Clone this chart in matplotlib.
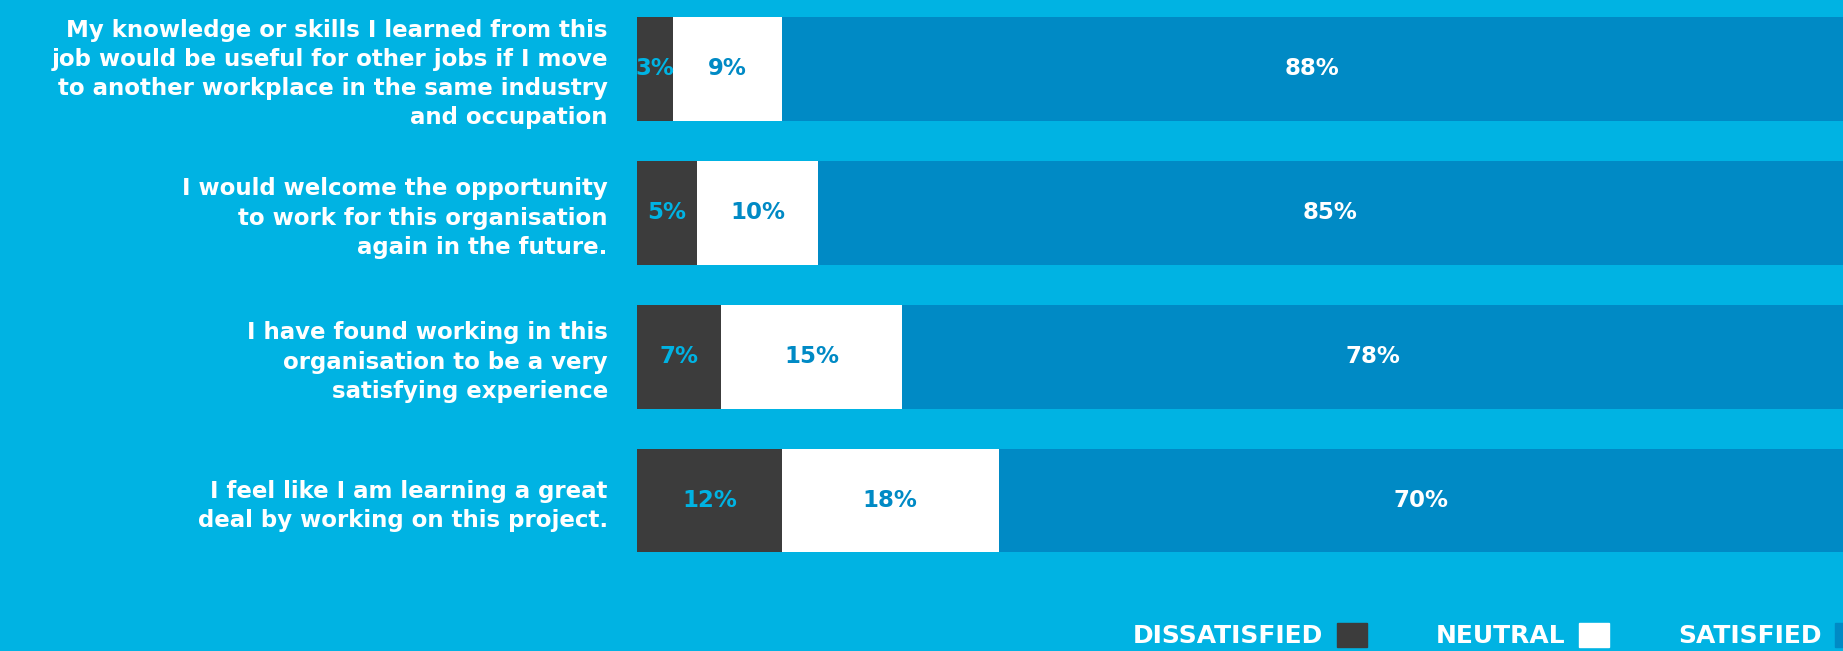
import matplotlib.pyplot as plt
from matplotlib.patches import Patch

questions = [
    "My knowledge or skills I learned from this\njob would be useful for other jobs if I move\nto another workplace in the same industry\nand occupation",
    "I would welcome the opportunity\nto work for this organisation\nagain in the future.",
    "I have found working in this\norganisation to be a very\nsatisfying experience",
    "I feel like I am learning a great\ndeal by working on this project.",
]
dissatisfied = [3, 5, 7, 12]
neutral = [9, 10, 15, 18]
satisfied = [88, 85, 78, 70]

bg = "#00b3e3"
dark = "#3c3c3c"
blue = "#008ac5"
font = "DejaVu Sans"

W, H = 1843, 651
fig = plt.figure(figsize=(W / 100, H / 100), dpi=100, facecolor=bg)
ax = fig.add_axes([637 / W, 1 - 600 / H, 1 - 637 / W, 600 / H])
ax.set_facecolor(bg)

y = list(range(len(questions)))
h = 104 / 144
left2 = [d + n for d, n in zip(dissatisfied, neutral)]
b1 = ax.barh(y, dissatisfied, height=h, color=dark)
b2 = ax.barh(y, neutral, left=dissatisfied, height=h, color="white")
b3 = ax.barh(y, satisfied, left=left2, height=h, color=blue)

for bars, vals, col in [(b1, dissatisfied, bg), (b2, neutral, blue), (b3, satisfied, "white")]:
    for rect, v in zip(bars, vals):
        ax.text(rect.get_x() + rect.get_width() / 2, rect.get_y() + rect.get_height() / 2,
                f"{v}%", ha="center", va="center", color=col, fontsize=16.5,
                fontweight="bold", family=font)

ax.set_xlim(0, 100)
ax.set_ylim(3.691, -0.476)
ax.set_xticks([])
ax.set_yticks(y)
ax.set_yticklabels(questions, fontsize=16.5, fontweight="bold", family=font,
                   color="white", linespacing=1.34)
ax.tick_params(axis="y", length=0, pad=21)
for s in ax.spines.values():
    s.set_visible(False)

handles = [Patch(color=dark), Patch(color="white"), Patch(color=blue)]
fig.legend(handles, ["DISSATISFIED", "NEUTRAL", "SATISFIED"], ncol=3, markerfirst=False,
           loc="lower right", bbox_to_anchor=(1.012, 0.004), frameon=False,
           prop={"family": font, "weight": "bold", "size": 18},
           labelcolor="white", handlelength=1.2, handleheight=1.15,
           handletextpad=0.55, columnspacing=2.75, borderpad=0, borderaxespad=0)

fig.savefig("out.png", dpi=100, facecolor=bg)
